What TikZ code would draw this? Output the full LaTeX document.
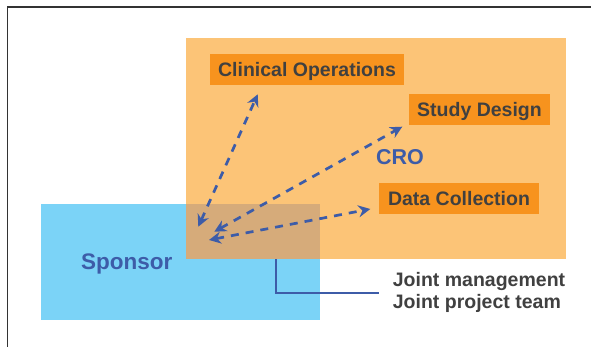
\documentclass[tikz,border=0pt]{standalone}
\usepackage{fontspec}
\setmainfont{Liberation Sans}
\usetikzlibrary{arrows.meta}
\definecolor{croorange}{RGB}{252,196,119}
\definecolor{boxorange}{RGB}{247,147,30}
\definecolor{sponsorblue}{RGB}{123,211,247}
\definecolor{overlapbrown}{RGB}{214,171,122}
\definecolor{arrowblue}{RGB}{61,92,168}
\definecolor{textgray}{RGB}{64,64,64}
\begin{document}
\begin{tikzpicture}[x = 1pt, y = -1pt,
  box/.style = {fill=boxorange, text=textgray, font=\bfseries\fontsize{19.5}{22}\selectfont,
    minimum height=31pt, text height=14pt, text depth=0pt, inner sep=0pt},
  biglabel/.style = {text=arrowblue, font=\bfseries\fontsize{22.5}{26}\selectfont, anchor=base, inner sep=0pt},
  dasharrow/.style = {arrowblue, line width=2.7pt, dash pattern=on 8pt off 7pt,
    {Stealth[length=12pt,width=12pt,inset=4pt]}-{Stealth[length=12pt,width=12pt,inset=4pt]}}]

\useasboundingbox (0,0) rectangle (591,347);
\draw [line width=1.5pt, black!80] (7.5,347) -- (7.5,7) -- (591,7);

\fill [croorange] (186,38) rectangle (566,259);
\fill [sponsorblue] (41,204) rectangle (320,320);
\fill [overlapbrown] (186,204) rectangle (320,259);

\node [box, minimum width=194pt] (co) at (307,69.5) {Clinical Operations};
\node [box, minimum width=141pt] (sd) at (479.5,109.5) {Study Design};
\node [box, minimum width=160pt] (dc) at (459,198.5) {Data Collection};
\node [biglabel, font=\bfseries\fontsize{21.5}{26}\selectfont] (cro) at (400,164.3) {CRO};
\node [biglabel] (sponsor) at (126.7,269.3) {Sponsor};
\node [text=textgray, font=\bfseries\fontsize{19.5}{21.7}\selectfont, align=left,
  anchor=base west, inner sep=0pt] (joint) at (392.7,308.4) {Joint management\\Joint project team};

\coordinate (a1) at (198.3,226.7);
\coordinate (b1) at (257.7,94.3);
\coordinate (a2) at (214.3,231.7);
\coordinate (b2) at (402.3,126.7);
\coordinate (a3) at (209,240);
\coordinate (b3) at (370.3,209);
\foreach \s/\e in {a1/b1,a2/b2,a3/b3} {\draw [dasharrow] (\s) -- (\e);}

\coordinate (jm) at (275.7,259);
\draw [line width=2pt, arrowblue] (jm) |- ([xshift=-14pt]joint.west);

\end{tikzpicture}
\end{document}
